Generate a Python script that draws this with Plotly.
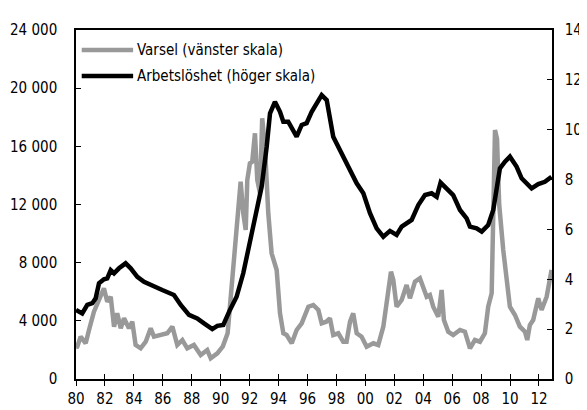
import plotly.graph_objects as go

# Varsel (left scale), decimal year and value
varsel_x = [1980.0, 1980.09, 1980.32, 1980.67, 1980.9, 1981.24, 1981.59, 1981.93, 1982.16, 1982.4,
            1982.63, 1982.85, 1983.09, 1983.32, 1983.66, 1983.89, 1984.12, 1984.47, 1984.82, 1985.16,
            1985.39, 1985.85, 1986.31, 1986.66, 1987.0, 1987.35, 1987.69, 1988.15, 1988.62, 1989.07,
            1989.31, 1989.77, 1990.15, 1990.48, 1990.76, 1990.99, 1991.22, 1991.38, 1991.56, 1991.73,
            1991.84, 1992.02, 1992.18, 1992.37, 1992.53, 1992.72, 1992.87, 1993.06, 1993.29, 1993.52,
            1993.87, 1994.1, 1994.33, 1994.56, 1994.91, 1995.25, 1995.6, 1995.83, 1996.06, 1996.4,
            1996.75, 1996.98, 1997.3, 1997.55, 1997.78, 1998.13, 1998.47, 1998.7, 1998.94, 1999.16,
            1999.4, 1999.74, 2000.09, 2000.55, 2000.89, 2001.24, 2001.47, 2001.77, 2001.93, 2002.16,
            2002.51, 2002.85, 2003.08, 2003.43, 2003.77, 2004.0, 2004.24, 2004.46, 2004.69, 2005.04,
            2005.27, 2005.43, 2005.73, 2006.07, 2006.54, 2006.88, 2007.23, 2007.57, 2007.92, 2008.26,
            2008.49, 2008.73, 2008.85, 2008.96, 2009.1, 2009.25, 2009.53, 2009.77, 2009.99, 2010.34,
            2010.68, 2011.03, 2011.19, 2011.37, 2011.6, 2011.95, 2012.18, 2012.53, 2012.87]
varsel_y = [2200, 2221, 2909, 2455, 3370, 4628, 5437, 6237, 5316, 5660,
            3597, 4518, 3487, 4174, 3487, 3941, 2338, 2111, 2565, 3487,
            2909, 3026, 3143, 3597, 2338, 2682, 2111, 2338, 1650, 1994,
            1423, 1767, 2250, 3143, 6348, 9098, 11395, 13569, 11395, 10247,
            13685, 14834, 14945, 16897, 13685, 12771, 17928, 15975, 11395, 8644,
            7496, 4518, 3143, 3026, 2455, 3370, 3831, 4518, 4972, 5089,
            4745, 3831, 3941, 4174, 3026, 3143, 2565, 2565, 3941, 4518,
            3143, 2909, 2221, 2455, 2338, 3597, 5433, 7379, 6808, 4972,
            5433, 6464, 5550, 6691, 6925, 6237, 5660, 5777, 4972, 4284,
            6121, 4057, 3253, 3026, 3370, 3253, 2111, 2682, 2565, 3143,
            4972, 5894, 11000, 17124, 16500, 12000, 8871, 7035, 4972, 4401,
            3597, 3253, 2682, 3714, 4057, 5550, 4745, 5660, 7496]

# Arbetslöshet (right scale, percent)
arb_x = [1980.0, 1980.43, 1980.78, 1981.13, 1981.36, 1981.59, 1981.93, 1982.16, 1982.4, 1982.63,
         1982.97, 1983.43, 1983.78, 1984.24, 1984.7, 1985.39, 1985.96, 1986.77, 1987.24, 1987.81,
         1988.38, 1988.85, 1989.42, 1989.77, 1990.18, 1990.64, 1991.1, 1991.56, 1992.02, 1992.49,
         1992.83, 1993.18, 1993.41, 1993.75, 1994.1, 1994.33, 1994.67, 1995.25, 1995.6, 1995.94,
         1996.29, 1996.98, 1997.33, 1997.78, 1998.4, 1998.94, 1999.4, 1999.86, 2000.32, 2000.78,
         2001.24, 2001.7, 2002.16, 2002.51, 2003.2, 2003.66, 2004.12, 2004.58, 2004.93, 2005.2,
         2005.62, 2006.07, 2006.54, 2007.0, 2007.23, 2007.69, 2008.04, 2008.49, 2008.84, 2009.07,
         2009.3, 2009.65, 2009.99, 2010.45, 2010.8, 2011.49, 2011.95, 2012.41, 2012.87]
arb_y = [2.77, 2.63, 2.97, 3.04, 3.24, 3.84, 4.0, 4.04, 4.37, 4.24,
         4.44, 4.64, 4.44, 4.10, 3.9, 3.7, 3.57, 3.37, 2.97, 2.57,
         2.43, 2.23, 2.0, 2.13, 2.17, 2.77, 3.30, 4.24, 5.44, 6.78,
         7.71, 9.32, 10.66, 11.12, 10.72, 10.32, 10.32, 9.72, 10.19, 10.26,
         10.72, 11.39, 11.19, 9.72, 9.0, 8.32, 7.85, 7.45, 6.65, 6.04,
         5.71, 5.94, 5.78, 6.11, 6.38, 6.98, 7.38, 7.45, 7.31, 7.88,
         7.65, 7.38, 6.78, 6.44, 6.11, 6.04, 5.91, 6.18, 6.78, 7.58,
         8.45, 8.72, 8.92, 8.52, 8.05, 7.65, 7.82, 7.91, 8.11]

x_tickvals = list(range(1980, 2013, 2))
x_ticktext = ["80", "82", "84", "86", "88", "90", "92", "94", "96", "98",
              "00", "02", "04", "06", "08", "10", "12"]
left_tickvals = [0, 4000, 8000, 12000, 16000, 20000, 24000]
left_ticktext = ["0", "4 000", "8 000", "12 000", "16 000", "20 000", "24 000"]
right_tickvals = [0, 2, 4, 6, 8, 10, 12, 14]

names = ["Varsel (vänster skala)", "Arbetslöshet (höger skala)"]
GRAY = "#999999"
FONT = "Liberation Sans Narrow, DejaVu Sans Condensed, Arial Narrow, sans-serif"

fig = go.Figure()
fig.add_trace(go.Scatter(x=varsel_x, y=varsel_y, mode="lines", name=names[0],
                         line=dict(color=GRAY, width=4.5), yaxis="y", showlegend=False))
fig.add_trace(go.Scatter(x=arb_x, y=arb_y, mode="lines", name=names[1],
                         line=dict(color="black", width=4.5), yaxis="y2", showlegend=False))
# helper empty trace so the inner tick overlay axis renders
fig.add_trace(go.Scatter(x=[], y=[], xaxis="x2", yaxis="y", showlegend=False, hoverinfo="skip"))

XR = [1980, 2012.9]
# the page body adds an 8px offset, margins compensate so the plot area lands at 76..552 x 30..379
fig.update_layout(
    width=587, height=410,
    margin=dict(l=68, r=43, t=22, b=39),
    paper_bgcolor="white", plot_bgcolor="white",
    font=dict(family=FONT, size=15, color="black"),
    xaxis=dict(range=XR, tickvals=x_tickvals, ticktext=x_ticktext, ticks="outside",
               ticklen=5, tickwidth=1, tickcolor="black", showline=True, linecolor="black",
               linewidth=1.5, mirror=True, showgrid=False, zeroline=False, automargin=False),
    xaxis2=dict(range=XR, tickvals=x_tickvals, ticks="inside", ticklen=5, tickwidth=1,
                tickcolor="black", showticklabels=False, overlaying="x", anchor="y",
                showgrid=False, zeroline=False, showline=False, automargin=False),
    yaxis=dict(range=[0, 24000], tickvals=left_tickvals, ticktext=left_ticktext,
               ticks="inside", ticklen=5, tickcolor="black", showline=True, linecolor="black",
               linewidth=1.5, showgrid=False, zeroline=False, ticklabelstandoff=14,
               automargin=False),
    yaxis2=dict(range=[0, 14], tickvals=right_tickvals, overlaying="y", side="right",
                ticks="inside", ticklen=5, tickcolor="black", showline=True, linecolor="black",
                linewidth=1.5, showgrid=False, zeroline=False, ticklabelstandoff=8,
                automargin=False),
)

# manual legend
legend_rows = [(GRAY, names[0], 0.943), ("black", names[1], 0.868)]
for color, label, yp in legend_rows:
    fig.add_shape(type="line", xref="paper", yref="paper", x0=0.012, x1=0.12, y0=yp, y1=yp,
                  line=dict(color=color, width=4.5))
    fig.add_annotation(xref="paper", yref="paper", x=0.124, y=yp, text=label, showarrow=False,
                       xanchor="left", yanchor="middle", font=dict(size=15, color="black"))

fig.write_html("out.html")
